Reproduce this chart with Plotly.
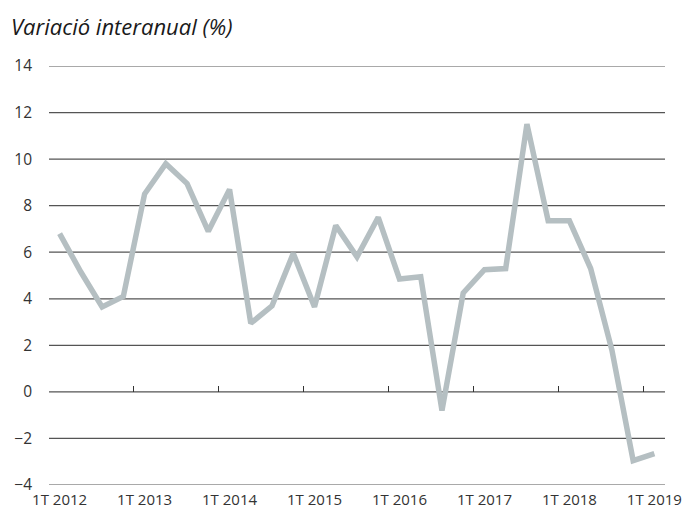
import plotly.graph_objects as go

years = [2012, 2013, 2014, 2015, 2016, 2017, 2018, 2019]
quarters = []
for y in years:
    for q in range(1, 5):
        if y == 2019 and q > 1:
            break
        quarters.append(f"{q}T {y}")

values = [6.8, 5.15, 3.65, 4.1, 8.5, 9.8, 8.95, 6.9, 8.7, 2.95,
          3.7, 5.95, 3.65, 7.15, 5.8, 7.5, 4.85, 4.95, -0.8, 4.25,
          5.25, 5.3, 11.5, 7.35, 7.35, 5.3, 1.8, -2.95, -2.65]

year_labels = [f"1T {y}" for y in years]
y_ticks = [-4, -2, 0, 2, 4, 6, 8, 10, 12, 14]

fig = go.Figure()
fig.add_trace(go.Scatter(x=quarters, y=values, mode="lines",
                         line=dict(color="#b5bfc2", width=5.5), xaxis="x", yaxis="y",
                         showlegend=False, hoverinfo="skip"))
# invisible trace for the tick-only axis at y=0
fig.add_trace(go.Scatter(x=quarters, y=values, mode="lines", line=dict(width=0),
                         xaxis="x2", yaxis="y", showlegend=False, hoverinfo="skip",
                         opacity=0))

# horizontal grid lines
for v in y_ticks:
    fig.add_shape(type="line", xref="paper", yref="y", x0=0, x1=1, y0=v, y1=v,
                  line=dict(color="#555555", width=1.2), layer="below")

font_family = "Open Sans, Noto Sans, sans-serif"
plot_w = 691 - 41 - 34
fig.update_layout(
    width=691, height=508,
    margin=dict(l=41, r=34, t=58, b=31, autoexpand=False),
    paper_bgcolor="white", plot_bgcolor="white",
    font=dict(family=font_family, color="#333333", size=15),
    xaxis=dict(type="category", categoryorder="array", categoryarray=quarters,
               range=[-0.5, len(quarters) - 0.5], automargin=False,
               tickmode="array", tickvals=year_labels, ticktext=year_labels,
               ticks="", showgrid=False, showline=False, zeroline=False,
               tickfont=dict(size=15, color="#333333"), ticklabelstandoff=4),
    xaxis2=dict(type="category", categoryorder="array", categoryarray=quarters,
                range=[-0.5, len(quarters) - 0.5], overlaying="x", automargin=False,
                anchor="free", position=4 / 18, side="bottom",
                tickmode="linear", tick0=0, dtick=4, tickson="boundaries",
                ticks="inside", ticklen=6, tickcolor="#333333", tickwidth=1,
                showticklabels=False, showgrid=False, showline=False, zeroline=False),
    yaxis=dict(range=[-4, 14], tickvals=y_ticks, showgrid=False, automargin=False,
               zeroline=False, showline=False, ticks="",
               ticklabelstandoff=16, tickfont=dict(size=15.5, color="#333333")),
    annotations=[dict(text="<i>Variació interanual (%)</i>", xref="paper", yref="paper",
                      x=-40 / plot_w, y=1, xanchor="left", yanchor="bottom",
                      yshift=23, showarrow=False,
                      font=dict(size=22, color="#1a1a1a", family=font_family))],
)

fig.write_html("out.html")
